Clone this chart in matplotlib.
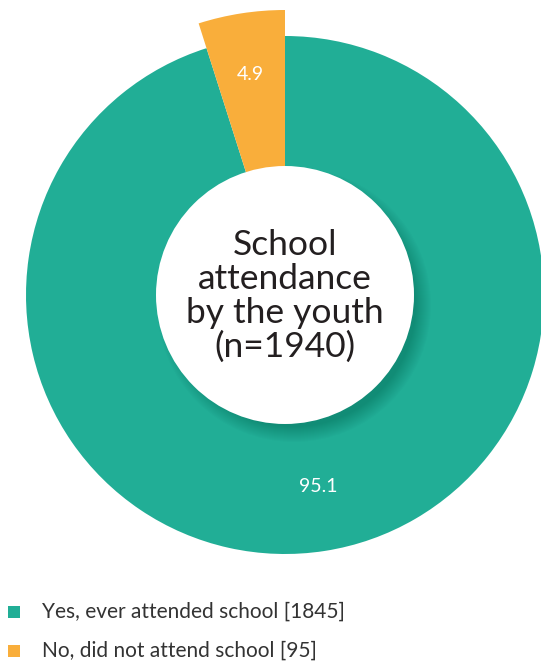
import matplotlib.pyplot as plt
from matplotlib.patches import Circle, Rectangle

labels = ["Yes, ever attended school", "No, did not attend school"]
counts = [1845, 95]
shares = [95.1, 4.9]
colors = ["#21ae96", "#f9ae3b"]
title = "School\nattendance\nby the youth\n(n=1940)"

plt.rcParams['font.family'] = ['Lato', 'DejaVu Sans']

fig = plt.figure(figsize=(5.41, 6.66), dpi=100)
ax = fig.add_axes([0, 0, 1, 1])

cx, cy = 285, 371
wedges, _ = ax.pie(shares, colors=colors, startangle=90, counterclock=False,
                   radius=259, center=(cx, cy), frame=False,
                   wedgeprops=dict(linewidth=0))
# the small slice sticks out beyond the ring
wedges[1].set_radius(285)

# soft shadow under the centre disc, towards the lower right
for i in range(16):
    ax.add_patch(Circle((cx + 9, cy - 10), 122 + i * 1.0, color="black",
                        alpha=0.01, lw=0, zorder=3))
ax.add_patch(Circle((cx, cy), 129, color="white", lw=0, zorder=4))

ax.text(cx, cy - 1, title, ha="center", va="center", fontsize=25.5,
        color="#231f20", linespacing=1.07, zorder=5)

ax.text(250, 591, f"{shares[1]}", ha="center", va="center", fontsize=14,
        color="white", zorder=5)
ax.text(318, 179, f"{shares[0]}", ha="center", va="center", fontsize=14,
        color="white", zorder=5)

# legend
for i, (lab, n, c) in enumerate(zip(labels, counts, colors)):
    y = 54 - i * 39
    ax.add_patch(Rectangle((8, y - 6), 12, 12, color=c, lw=0))
    ax.text(42, y, f"{lab} [{n}]", ha="left", va="center", fontsize=15,
            color="#333333")

ax.set_xlim(0, 541)
ax.set_ylim(0, 666)
ax.set_aspect("auto")
ax.axis("off")

fig.savefig("out.png", dpi=100)
